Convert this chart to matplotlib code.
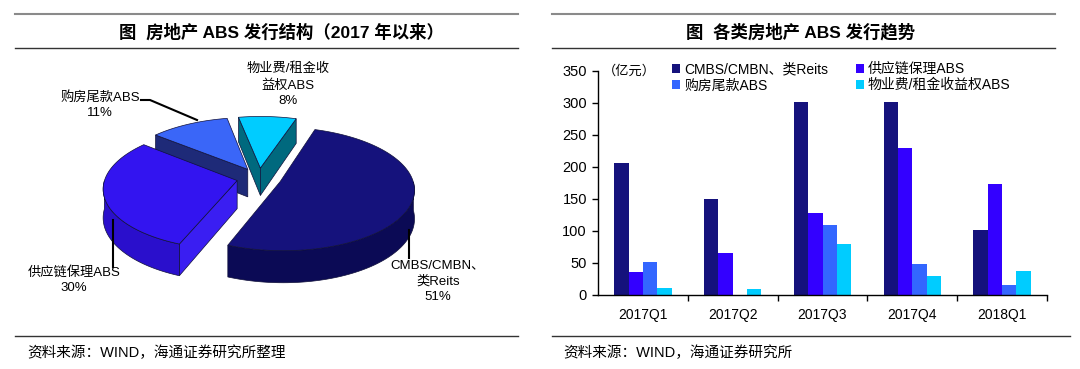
import numpy as np
import matplotlib
matplotlib.use('Agg')
import matplotlib.pyplot as plt
from matplotlib.patches import Polygon
from matplotlib.lines import Line2D

plt.rcParams['font.family'] = ['Liberation Sans', 'Noto Sans CJK SC']

# pie data (share of issuance since 2017)
pie_names = ['CMBS/CMBN、\n类Reits', '供应链保理ABS', '购房尾款ABS', '物业费/租金收\n益权ABS']
pie_shares = [51, 30, 11, 8]
pie_top = ['#15127C', '#3314F0', '#3A66F8', '#00CCFF']
pie_side = ['#0B0A55', '#2A0FCC', '#1E2A78', '#0098B4']
pie_face = ['#0B0A55', '#3A1EF2', '#1E2A78', '#00697E']

# bar data (亿元)
quarters = ['2017Q1', '2017Q2', '2017Q3', '2017Q4', '2018Q1']
cmbs = [206, 150, 302, 302, 101]
supply = [36, 66, 128, 230, 174]
purchase = [52, 0, 109, 49, 15]
prop_fee = [11, 9, 80, 30, 37]
bar_names = ['CMBS/CMBN、类Reits', '供应链保理ABS', '购房尾款ABS', '物业费/租金收益权ABS']
bar_colors = ['#15127C', '#3300FF', '#3366FF', '#00CCFF']

fig = plt.figure(figsize=(10.8, 3.69), dpi=100)
bg = fig.add_axes([0, 0, 1, 1])
bg.set_xlim(0, 1080)
bg.set_ylim(369, 0)
bg.axis('off')

# frame lines and titles
for x0, x1, x2 in [(15, 518, 518), (552, 1055, 1070)]:
    bg.add_line(Line2D([x0, x1], [14, 14], color='#8a8a8a', lw=1.5))
    bg.add_line(Line2D([x0, x1], [48, 48], color='#333333', lw=1.0))
    bg.add_line(Line2D([x0, x2], [336, 336], color='#333333', lw=1.0))
bg.text(281, 32, '图  房地产 ABS 发行结构（2017 年以来）', ha='center', va='center',
        fontsize=12.5, fontweight='bold')
bg.text(801, 32, '图  各类房地产 ABS 发行趋势', ha='center', va='center',
        fontsize=12.5, fontweight='bold')
bg.text(27, 353, '资料来源：WIND，海通证券研究所整理', ha='left', va='center', fontsize=10.5)
bg.text(563, 353, '资料来源：WIND，海通证券研究所', ha='left', va='center', fontsize=10.5)

# 3D pie
cx, cy = 259, 178
rx, ry = 132, 60
depth = 28
persp = 0.12
expl = 0.17
start = 72


def proj(u, v, h):
    s = 1.0 / (1.0 + persp * v)
    return cx + rx * u * s, cy - (ry * v + h) * s


slices = []
a = start
for i, sh in enumerate(pie_shares):
    a1 = a
    a2 = a - 360.0 * sh / 100
    a = a2
    m = np.radians((a1 + a2) / 2)
    slices.append((i, a1, a2, expl * np.cos(m), expl * np.sin(m), np.sin(m)))

for i, a1, a2, ou, ov, depthkey in sorted(slices, key=lambda s: -s[5]):
    ts = np.radians(np.linspace(a1, a2, 120))
    # radial walls
    for ang, vis in [(a1, np.cos(np.radians(a1)) < 0), (a2, np.cos(np.radians(a2)) > 0)]:
        if vis:
            t = np.radians(ang)
            pts = [proj(ou, ov, 0), proj(ou + np.cos(t), ov + np.sin(t), 0),
                   proj(ou + np.cos(t), ov + np.sin(t), -depth), proj(ou, ov, -depth)]
            bg.add_patch(Polygon(pts, closed=True, fc=pie_face[i], ec='#10103a', lw=0.5))
    # outer wall (front half only)
    front = ts[np.sin(ts) < 0]
    if len(front) > 1:
        top = [proj(ou + np.cos(t), ov + np.sin(t), 0) for t in front]
        bot = [proj(ou + np.cos(t), ov + np.sin(t), -depth) for t in front[::-1]]
        bg.add_patch(Polygon(top + bot, closed=True, fc=pie_side[i], ec='#10103a', lw=0.5))
    # top face
    pts = [proj(ou, ov, 0)] + [proj(ou + np.cos(t), ov + np.sin(t), 0) for t in ts]
    bg.add_patch(Polygon(pts, closed=True, fc=pie_top[i], ec='#10103a', lw=0.5))

# pie labels
lab_pos = [(438, 281), (74, 280), (100, 105), (288, 85)]
for i, (lx, ly) in enumerate(lab_pos):
    bg.text(lx, ly, pie_names[i] + '\n' + f'{pie_shares[i]}%', ha='center', va='center',
            fontsize=9.5, linespacing=1.4)
bg.add_line(Line2D([409, 409], [230, 258], color='black', lw=1.5))
bg.add_line(Line2D([113, 113], [220, 267], color='black', lw=1.5))
bg.add_line(Line2D([141, 150, 197], [100, 100, 120], color='black', lw=1.5))

# bar chart
ax = fig.add_axes([598 / 1080, 74 / 369, 449 / 1080, 224 / 369])
x = np.arange(len(quarters))
w = 0.16
series = [cmbs, supply, purchase, prop_fee]
handles = []
for k, vals in enumerate(series):
    b = ax.bar(x + (k - 1.5) * w, vals, width=w, color=bar_colors[k], label=bar_names[k])
    handles.append(b)
ax.set_xlim(-0.5, len(quarters) - 0.5)
ax.set_ylim(0, 350)
ax.set_yticks(range(0, 351, 50))
ax.set_xticks(x)
ax.set_xticklabels(quarters, fontsize=10)
ax.set_xticks(np.arange(0.5, len(quarters), 1), minor=True)
ax.tick_params(axis='x', which='major', length=0, pad=9)
ax.tick_params(axis='x', which='minor', length=4, direction='out', width=1)
ax.tick_params(axis='y', length=4, direction='out', width=1, labelsize=10.5, pad=4)
for sp in ['top', 'right']:
    ax.spines[sp].set_visible(False)
for sp in ['left', 'bottom']:
    ax.spines[sp].set_linewidth(1.0)
ax.text(0.01, 1.0, '（亿元）', transform=ax.transAxes, fontsize=9.5, va='center', ha='left')
order = [0, 2, 1, 3]
ax.legend([handles[k] for k in order], [bar_names[k] for k in order], ncol=2,
          loc='upper left', bbox_to_anchor=(0.15, 1.07), frameon=False, fontsize=10,
          handlelength=0.55, handleheight=0.55, handletextpad=0.3, columnspacing=2.0,
          labelspacing=0.15, borderpad=0)

fig.savefig('out.png', dpi=100)
